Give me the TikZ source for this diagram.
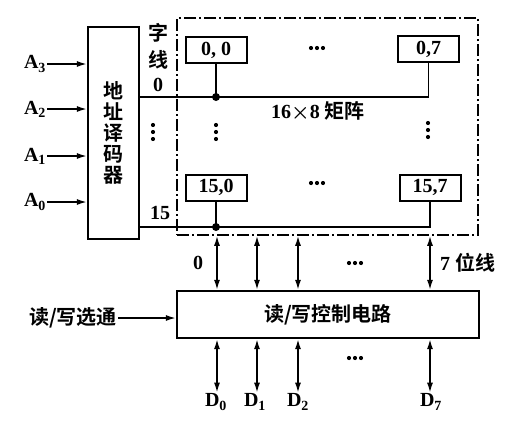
\documentclass[tikz,border=0pt]{standalone}
\usepackage{fontspec}
\setmainfont{Liberation Serif}
\newfontfamily\cjk{Noto Sans CJK SC}[BoldFont={Noto Sans CJK SC Bold}]
\usetikzlibrary{arrows.meta, positioning}
\tikzstyle{block} = [rectangle, draw, line width=2.2pt, inner sep=0pt]
\tikzstyle{cell} = [rectangle, draw, line width=2pt, minimum width=61pt, minimum height=26pt, inner sep=0pt]
\tikzstyle{matbox} = [rectangle, draw, line width=1.6pt, dash pattern=on 12pt off 3pt on 2pt off 3pt, minimum width=301pt, minimum height=217pt]
\tikzstyle{wire} = [line width=1.8pt]
\tikzstyle{arrow} = [-{Latex[length=10pt,width=6pt]}, line width=1.6pt]
\tikzstyle{bus} = [{Latex[length=10pt,width=6pt]}-{Latex[length=10pt,width=6pt]}, line width=1.6pt]
\tikzstyle{lbl} = [inner sep=1pt]

\begin{document}
\begin{tikzpicture}[x=1pt, y=-1pt, every node/.style={font=\bfseries\boldmath\fontsize{20}{22}\selectfont}]
\useasboundingbox (0,0) rectangle (515,426);

% Address decoder and inputs
\node[block, minimum width=51pt, minimum height=212pt, align=center, font=\bfseries\fontsize{20}{21}\selectfont] (dec) at (113.5,133) {\cjk 地\\\cjk 址\\\cjk 译\\\cjk 码\\\cjk 器};
\node[lbl] (a3) at (35,64) {A\textsubscript{3}};
\node[lbl] (a2) at (35,109) {A\textsubscript{2}};
\node[lbl] (a1) at (35,156) {A\textsubscript{1}};
\node[lbl] (a0) at (35,202) {A\textsubscript{0}};
\draw[arrow] (a3) -- (a3 -| dec.west);
\draw[arrow] (a2) -- (a2 -| dec.west);
\draw[arrow] (a1) -- (a1 -| dec.west);
\draw[arrow] (a0) -- (a0 -| dec.west);

% Storage matrix
\node[matbox] (mat) at (327.5,126.5) {};
\node[cell] (c00) at (216,50) {0, 0};
\node[cell] (c07) at (428.5,49) {0,7};
\node[cell] (c150) at (216,187.5) {15,0};
\node[cell] (c157) at (430,187.5) {15,7};
\node at (318,111) {16$\times$8 {\cjk 矩阵}};

% Word lines
\node[lbl, align=center, font=\bfseries\fontsize{20}{27}\selectfont] (zx) at (158,46) {\cjk 字\\\cjk 线};
\node[lbl] (w0lbl) at (158,85) {0};
\node[lbl] (w15lbl) at (160,213) {15};
\coordinate (w0) at (dec.east |- 0,97);
\coordinate (w15) at (dec.east |- 0,227);
\draw[wire] (w0) -| (c07.south);
\draw[wire] (w15) -| (c157.south);
\draw[wire] (c00.south) -- (c00 |- w0);
\draw[wire] (c150.south) -- (c150 |- w15);
\fill (c00 |- w0) circle (4pt);
\fill (c150 |- w15) circle (4pt);

% Dots
\foreach \x/\y in {317/48, 317/183, 355/263, 355/358}
  \foreach \d in {-6,0,6} \fill (\x+\d,\y) circle (2.1pt);
\foreach \x/\y in {153/132, 216/132, 428/130}
  \foreach \d in {-7,0,7} \fill (\x,\y+\d) circle (2.1pt);

% Read/write control
\node[block, minimum width=302pt, minimum height=47pt] (rw) at (328,314.5) {\cjk 读/写控制电路};
\node[lbl] (sel) at (73,318) {\cjk 读/写选通};
\draw[arrow] (sel) -- (sel -| rw.west);

% Bit lines
\coordinate (b0) at (217,0);
\coordinate (b1) at (257,0);
\coordinate (b2) at (298,0);
\coordinate (b7) at (430,0);
\foreach \b in {b0,b1,b2,b7}
  \draw[bus] (\b |- mat.south) -- (\b |- rw.north);
\node[lbl] (bl0) at (198,263) {0};
\node[lbl, anchor=west] (bl7) at (439,263) {7 {\cjk 位线}};

% Data lines
\node[lbl] (d0) at (216,402) {D\textsubscript{0}};
\node[lbl] (d1) at (255,402) {D\textsubscript{1}};
\node[lbl] (d2) at (298,402) {D\textsubscript{2}};
\node[lbl] (d7) at (431,402) {D\textsubscript{7}};
\draw[bus] (b0 |- rw.south) -- (b0 |- d0.north);
\draw[bus] (b1 |- rw.south) -- (b1 |- d1.north);
\draw[bus] (b2 |- rw.south) -- (b2 |- d2.north);
\draw[bus] (b7 |- rw.south) -- (b7 |- d7.north);

\end{tikzpicture}
\end{document}
